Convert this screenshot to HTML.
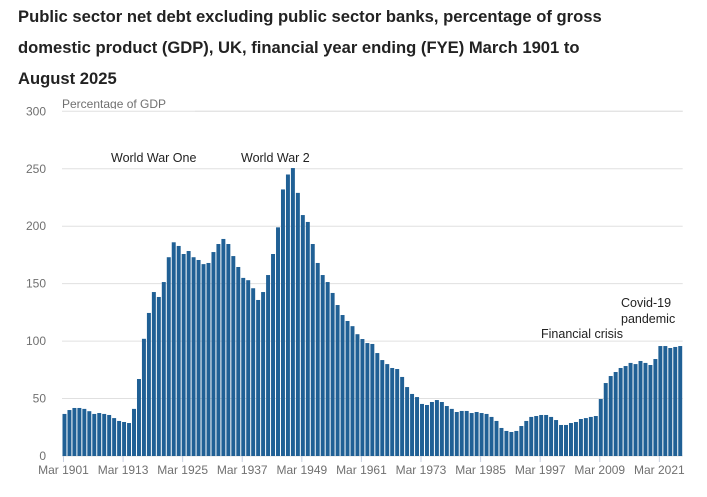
<!DOCTYPE html>
<html><head><meta charset="utf-8">
<style>
body{margin:0;background:#fff;width:707px;height:497px;overflow:hidden;font-family:"Liberation Sans",sans-serif;}
#title{position:absolute;left:18px;top:1px;width:690px;white-space:nowrap;font-size:16.6px;font-weight:bold;color:#222;line-height:31px;}
svg{position:absolute;left:0;top:0;}
</style></head><body>
<div id="title">Public sector net debt excluding public sector banks, percentage of gross<br>domestic product (GDP), UK, financial year ending (FYE) March 1901 to<br>August 2025</div>
<svg id="chart" width="707" height="497"></svg>
<script>
const startYear = 1901;
const values = [
36.6,40,41.8,41.8,41,39,36.6,37.4,36.6,35.7,33,30.5,29.6,28.7,41,67,102,124.5,142.7,138.4,
151.4,173,186,182.8,175.8,178.4,173,170.6,167,168,177.5,184.5,188.9,184.5,174,164.5,155,153,146,135.8,
142.7,157.5,175.8,199,232,245,250.6,229,209.7,203.7,184.5,168,157.5,151.4,141.9,131.4,122.7,117.5,113,106,
101.8,98.3,97.5,89.6,83.5,80,76.6,75.7,68.8,60,54,51.3,45.3,44.4,47,48.7,47,43.5,41,38.3,
39.2,39.2,37.4,38.3,37.4,36.6,34,30.5,24.4,21.8,20.9,21.8,26.1,30.5,34,34.8,35.7,35.7,34,31.3,
27,27,28.7,29.6,32.2,33,34,34.8,49.6,63.5,69.6,73.1,76.6,78.3,81,80,82.7,81,79.2,84.4,
95.7,95.7,94,94.9,95.7
];
const yTicks = [0,50,100,150,200,250,300];
const xTickYears = [1901,1913,1925,1937,1949,1961,1973,1985,1997,2009,2021];
const annotations = [
 {text:"World War One", x:111, y:162},
 {text:"World War 2", x:241, y:162},
 {text:"Financial crisis", x:541, y:338},
 {text:"Covid-19", x:621, y:307},
 {text:"pandemic", x:621, y:323}
];
const NS="http://www.w3.org/2000/svg";
const svg=document.getElementById('chart');
const X0=62, X1=682.7, Y0=456, Ytop=111.3, YMAX=300;
const band=(X1-X0)/values.length;
const y=v=>Y0-(v/YMAX)*(Y0-Ytop);
const xc=i=>X0+band*(i+0.5);
function mk(t,a){const e=document.createElementNS(NS,t);for(const k in a)e.setAttribute(k,a[k]);svg.appendChild(e);return e;}
yTicks.forEach(t=>{
 const g=mk('line',{x1:X0,x2:X1,y1:y(t),y2:y(t),stroke:'#e0e0e0','stroke-width':1});
 
 
 const l=mk('text',{x:46,y:y(t)+4,'text-anchor':'end','font-size':12,fill:'#707070'});
 l.textContent=t;
 
 
});
const yt=mk('text',{x:62,y:108,'font-size':12,fill:'#707070'});
yt.textContent='Percentage of GDP';


mk('rect',{x:55,y:109,width:140,height:3,fill:'#fff'});
mk('line',{x1:X0,x2:X1,y1:y(300),y2:y(300),stroke:'#e0e0e0','stroke-width':1});
values.forEach((v,i)=>{
 const r=mk('rect',{x:xc(i)-band/2+0.5,y:y(v),width:band-1,height:Y0-y(v),fill:'#206095'});
 
 
});
xTickYears.forEach(yr=>{
 const i=yr-startYear;
 const t=mk('line',{x1:xc(i)-1,x2:xc(i)-1,y1:Y0,y2:Y0+6,stroke:'#c8d0e0','stroke-width':1});
 
 
 const l=mk('text',{x:xc(i)-1,y:Y0+18,'text-anchor':'middle','font-size':12,fill:'#707070'});
 l.textContent='Mar '+yr;
 
 
});
annotations.forEach(a=>{
 const t=mk('text',{x:a.x,y:a.y,'font-size':12.5,fill:'#222'});
 t.textContent=a.text;
 
 
});
</script>
</body></html>
